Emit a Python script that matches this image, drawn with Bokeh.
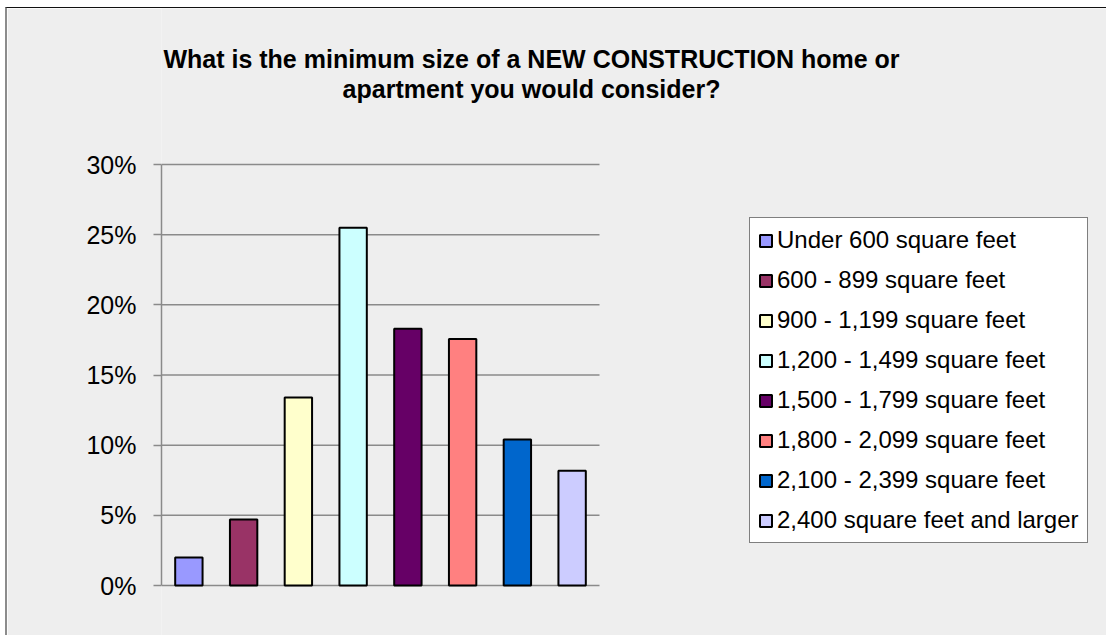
from bokeh.plotting import figure
from bokeh.models import (ColumnDataSource, Range1d, FixedTicker, PrintfTickFormatter,
                          Legend, LegendItem, Label)
from bokeh.embed import file_html
from bokeh.resources import INLINE

# ---- data ----
categories = ["Under 600 square feet", "600 - 899 square feet", "900 - 1,199 square feet",
              "1,200 - 1,499 square feet", "1,500 - 1,799 square feet",
              "1,800 - 2,099 square feet", "2,100 - 2,399 square feet",
              "2,400 square feet and larger"]
percent = [1.99, 4.70, 13.39, 25.49, 18.30, 17.56, 10.40, 8.17]
colors = ["#9999FF", "#993366", "#FFFFCC", "#CCFFFF", "#660066", "#FF8080", "#0066CC", "#CCCCFF"]
y_ticks = [0, 5, 10, 15, 20, 25, 30]
title_lines = ["What is the minimum size of a NEW CONSTRUCTION home or",
               "apartment you would consider?"]

FONT = "Liberation Sans"
BG = "#eeeeee"
GRID = "#8a8a8a"

# layout geometry (pixels)
W, H = 1101, 628
LEFT = 154                 # frame left inside canvas
CAT_W = 54.75              # pixel width of one category slot
PX_PER_UNIT = 14.033       # pixels per 1 percentage point
ZERO_Y = 577               # canvas y of 0 %
frame_w = W - LEFT
n = len(categories)
xs = list(range(n))

x_range = Range1d(-0.5, -0.5 + frame_w / CAT_W)
y_range = Range1d(-(H - ZERO_Y) / PX_PER_UNIT, ZERO_Y / PX_PER_UNIT)

p = figure(width=W, height=H, x_range=x_range, y_range=y_range,
           output_backend="svg", toolbar_location=None,
           min_border_left=LEFT, min_border_right=0, min_border_top=0, min_border_bottom=0)
p.margin = (7, 0, 0, 5)
p.styles = {"border-left": "2px solid #8c8c8c", "border-top": "1px solid #111111"}
p.background_fill_color = BG
p.border_fill_color = BG
p.outline_line_color = None
p.grid.visible = False
p.xaxis.visible = False

# horizontal gridlines spanning the category area only
p.segment(x0=[-0.5] * len(y_ticks), x1=[n - 0.5] * len(y_ticks), y0=y_ticks, y1=y_ticks,
          line_color=GRID, line_width=1.5)

src = ColumnDataSource(dict(x=xs, val=percent, color=colors, cat=categories))
r = p.vbar(x="x", top="val", width=0.5, source=src, fill_color="color",
           line_color="black", line_width=2)

# y axis
p.yaxis.bounds = (y_ticks[0], y_ticks[-1])
p.yaxis.ticker = FixedTicker(ticks=y_ticks)
p.yaxis.formatter = PrintfTickFormatter(format="%d%%")
p.yaxis.axis_line_color = GRID
p.yaxis.axis_line_width = 1.5
p.yaxis.major_tick_line_color = GRID
p.yaxis.major_tick_line_width = 1.5
p.yaxis.major_tick_out = 8
p.yaxis.major_tick_in = 0
p.yaxis.minor_tick_line_color = None
p.yaxis.major_label_text_font = FONT
p.yaxis.major_label_text_font_size = "25px"
p.yaxis.major_label_text_color = "black"
p.yaxis.major_label_standoff = 17

# legend
legend = Legend(items=[LegendItem(label=categories[i], renderers=[r], index=i) for i in range(n)],
                location=(588, 93))
legend.border_line_color = "black"
legend.border_line_width = 1
legend.background_fill_color = "white"
legend.background_fill_alpha = 1
legend.label_text_font = FONT
legend.label_text_font_size = "24px"
legend.label_text_color = "black"
legend.label_height = 28
legend.glyph_width = 15
legend.glyph_height = 15
legend.spacing = 12
legend.padding = 8
legend.margin = 0
legend.label_standoff = 4
p.add_layout(legend, "center")

# title
for i, line in enumerate(title_lines):
    p.add_layout(Label(x=370, y=578 - 30 * i, x_units="screen", y_units="screen",
                       text=line, text_align="center", text_baseline="alphabetic",
                       text_font=FONT, text_font_size="25px", text_font_style="bold",
                       text_color="black"))

open("out.html", "w").write(file_html(p, INLINE))
